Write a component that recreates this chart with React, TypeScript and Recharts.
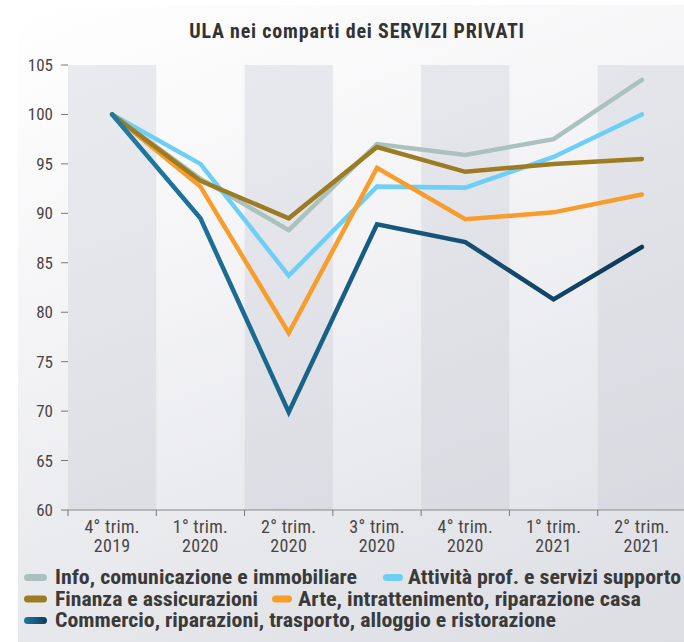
import React from 'react';
import { ComposedChart, Line, XAxis, YAxis, ReferenceArea } from 'recharts';

const categories = ['4° trim. 2019', '1° trim. 2020', '2° trim. 2020', '3° trim. 2020', '4° trim. 2020', '1° trim. 2021', '2° trim. 2021'];
const info = [100, 93.5, 88.3, 97.0, 95.9, 97.5, 103.5];
const attivita = [100, 95.0, 83.7, 92.7, 92.6, 95.7, 100.0];
const finanza = [100, 93.3, 89.5, 96.7, 94.2, 95.0, 95.5];
const arte = [100, 92.7, 77.9, 94.6, 89.4, 90.1, 91.9];
const commercio = [100, 89.5, 69.9, 88.9, 87.1, 81.3, 86.6];
const yTicks = [60, 65, 70, 75, 80, 85, 90, 95, 100, 105];
const shadedCategories = [categories[0], categories[2], categories[4], categories[6]];

const seriesNames = {
  info: 'Info, comunicazione e immobiliare',
  attivita: 'Attività prof. e servizi supporto',
  finanza: 'Finanza e assicurazioni',
  arte: 'Arte, intrattenimento, riparazione casa',
  commercio: 'Commercio, riparazioni, trasporto, alloggio e ristorazione',
};

const colors = {
  info: '#abc1bd',
  attivita: '#6dcff6',
  finanza: '#9c7b22',
  arte: '#f89c2c',
  commercio: 'url(#commGrad)',
};

const data = categories.map((c, i) => ({
  cat: c,
  info: info[i],
  attivita: attivita[i],
  finanza: finanza[i],
  arte: arte[i],
  commercio: commercio[i],
}));

const FONT = '"Roboto Condensed", "Liberation Sans Narrow", "DejaVu Sans Condensed", "Noto Sans", sans-serif';
const BAND = 618 / 7;

const XTick = (props: any) => {
  const { x, y, payload } = props;
  const s = String(payload.value);
  const idx = s.lastIndexOf(' ');
  const l1 = s.slice(0, idx);
  const l2 = s.slice(idx + 1);
  return (
    <g>
      <line x1={x - BAND / 2} x2={x - BAND / 2} y1={y} y2={y + 6} stroke="#777" strokeWidth={1} />
      <text x={x} y={y + 23} textAnchor="middle" fontFamily={FONT} fontSize={18} letterSpacing={0.3} fill="#4a4545">{l1}</text>
      <text x={x} y={y + 42} textAnchor="middle" fontFamily={FONT} fontSize={18} letterSpacing={0.3} fill="#4a4545">{l2}</text>
    </g>
  );
};

// legend layout: icon x, icon width, text x, text length, baseline
const legendItems: { key: keyof typeof seriesNames; fill: string; ix: number; iw: number; tx: number; tl: number; by: number }[] = [
  { key: 'info', fill: '#abc1bd', ix: 24, iw: 23, tx: 55, tl: 302, by: 584 },
  { key: 'attivita', fill: '#6dcff6', ix: 383, iw: 20, tx: 408, tl: 273, by: 584 },
  { key: 'finanza', fill: '#9c7b22', ix: 24, iw: 23, tx: 55, tl: 203, by: 605.5 },
  { key: 'arte', fill: '#f89c2c', ix: 272, iw: 20, tx: 298, tl: 343, by: 605.5 },
  { key: 'commercio', fill: 'url(#commGradL)', ix: 24, iw: 23, tx: 55, tl: 501, by: 627 },
];

export default function App() {
  return (
    <div style={{ position: 'fixed', left: 0, top: 0, width: 684, height: 642, overflow: 'hidden', background: '#fff' }}>
      <div style={{ position: 'absolute', left: 18, top: 5, width: 666, height: 637, background: 'linear-gradient(160deg, #ffffff 0%, #f5f5f7 35%, #e6e7eb 75%, #dcdde3 100%)' }} />
      <div style={{ position: 'absolute', left: 0, top: 0 }}>
        <ComposedChart width={700} height={642} data={data} margin={{ top: 65, right: 14, bottom: 82, left: 8 }}>
          <defs>
            <linearGradient id="commGrad" x1="0" y1="0" x2="1" y2="0">
              <stop offset="0%" stopColor="#1f7aa3" />
              <stop offset="100%" stopColor="#0e3a5a" />
            </linearGradient>
          </defs>
          <text x={357} y={38} textAnchor="middle" fontFamily={FONT} fontWeight="bold" fontSize={20} letterSpacing={0.8} fill="#333">ULA nei comparti dei SERVIZI PRIVATI</text>
          {shadedCategories.map((c) => (
            <ReferenceArea key={c} x1={c} x2={c} y1={60} y2={105} fill="#c5c8d3" fillOpacity={0.35} stroke="none" ifOverflow="visible" />
          ))}
          <XAxis dataKey="cat" scale="band" tick={<XTick />} tickLine={false} tickSize={0} tickMargin={0} height={50} axisLine={{ stroke: '#888', strokeWidth: 1 }} interval={0} />
          <YAxis domain={[60, 105]} ticks={yTicks} width={60} axisLine={false} tickSize={7} tickMargin={8} tickLine={{ stroke: '#777' }} tick={{ fontFamily: FONT, fontSize: 17, fill: '#4a4545' }} />
          <Line dataKey="info" name={seriesNames.info} stroke={colors.info} strokeWidth={4.5} dot={false} strokeLinecap="round" isAnimationActive={false} />
          <Line dataKey="attivita" name={seriesNames.attivita} stroke={colors.attivita} strokeWidth={4.5} dot={false} strokeLinecap="round" isAnimationActive={false} />
          <Line dataKey="arte" name={seriesNames.arte} stroke={colors.arte} strokeWidth={4.5} dot={false} strokeLinecap="round" isAnimationActive={false} />
          <Line dataKey="finanza" name={seriesNames.finanza} stroke={colors.finanza} strokeWidth={4.5} dot={false} strokeLinecap="round" isAnimationActive={false} />
          <Line dataKey="commercio" name={seriesNames.commercio} stroke={colors.commercio} strokeWidth={4.5} dot={false} strokeLinecap="round" isAnimationActive={false} />
        </ComposedChart>
      </div>
      <svg width={684} height={642} style={{ position: 'absolute', left: 0, top: 0, pointerEvents: 'none' }}>
        <defs>
          <linearGradient id="commGradL" x1="0" y1="0" x2="1" y2="0">
            <stop offset="0%" stopColor="#1f7aa3" />
            <stop offset="100%" stopColor="#0e3a5a" />
          </linearGradient>
        </defs>
        {legendItems.map((it) => (
          <g key={it.key}>
            <rect x={it.ix} y={it.by - 10} width={it.iw} height={7} rx={3.5} fill={it.fill} />
            <text x={it.tx} y={it.by} textLength={it.tl} lengthAdjust="spacingAndGlyphs" fontFamily={FONT} fontSize={19.5} fontWeight="bold" fill="#3a3a3a">
              {seriesNames[it.key]}
            </text>
          </g>
        ))}
      </svg>
    </div>
  );
}
